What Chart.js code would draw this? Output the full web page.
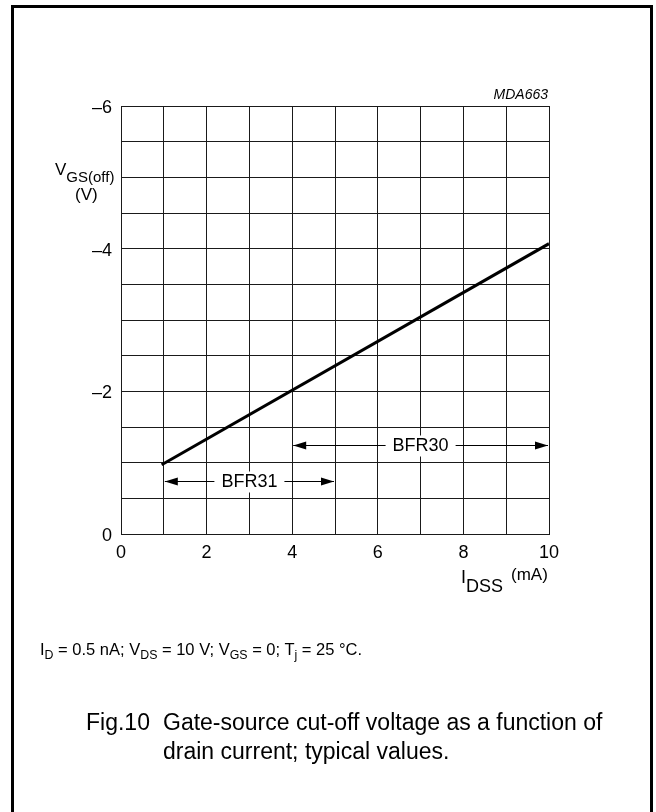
<!DOCTYPE html>
<html>
<head>
<meta charset="utf-8">
<title>Fig.10 Gate-source cut-off voltage</title>
<script src="https://cdn.jsdelivr.net/npm/chart.js@4.4.1/dist/chart.umd.min.js"></script>
<style>
    html, body { margin: 0; padding: 0; background: #fff; }
    body {
        width: 656px; height: 812px; position: relative; overflow: hidden;
        font-family: "Liberation Sans", Arial, Helvetica, sans-serif; color: #000;
    }
    #chart { position: absolute; left: 0; top: 0; }
    .frame {
        position: absolute; left: 11px; top: 5px; width: 642px; height: 830px;
        border: 3px solid #000; box-sizing: border-box;
    }
    .txt { position: absolute; line-height: 1; white-space: nowrap; }
    .lo { position: relative; }
    .code { font-style: italic; font-size: 14px; right: 108px; top: 87px; }
    .ytitle { font-size: 17px; left: 55px; top: 161px; }
    .yunit { font-size: 17px; left: 75px; top: 186px; }
    .xtitle { font-size: 18px; left: 461px; top: 568px; }
    .note { font-size: 16.5px; left: 40px; top: 641px; }
    .note sub { font-size: 0.75em; vertical-align: baseline; position: relative; top: 4px; }
    .cap { font-size: 23px; top: 711px; }
</style>
</head>
<body>
<canvas id="chart" width="656" height="812"></canvas>
<div class="frame"></div>

<div class="txt code">MDA663</div>
<div class="txt ytitle">V<span class="lo" style="top:7px; font-size:15px">GS(off)</span></div>
<div class="txt yunit">(V)</div>
<div class="txt xtitle">I<span class="lo" style="top:9px">DSS</span> <span class="lo" style="font-size:17px; top:-3px; left:3px">(mA)</span></div>

<div class="txt note">I<sub>D</sub> = 0.5 nA; V<sub>DS</sub> = 10 V; V<sub>GS</sub> = 0; T<sub>j</sub> = 25 °C.</div>
<div class="txt cap" style="left:86px;">Fig.10</div>
<div class="txt cap" style="left:163px;">Gate-source cut-off voltage as a function of</div>
<div class="txt cap" style="left:163px; top:740px;">drain current; typical values.</div>

<script>
// ========================================
// DATA
// ========================================

// axis ticks (labelled ones only, grid runs at finer steps)
const xTicks = [0, 2, 4, 6, 8, 10];
const yTicks = [0, -2, -4, -6];
const yTickLabels = ['0', '–2', '–4', '–6'];

// typical V_GS(off) versus I_DSS
const curveX = [0.95, 10];
const curveY = [-0.97, -4.07];

// type ranges drawn as double arrows
const rangeNames = ['BFR31', 'BFR30'];
const rangeFrom = [1, 4];
const rangeTo = [5, 10];
const rangeLevel = [-0.75, -1.25];
const rangeLabelAt = [3, 7];

const FONT = '"Liberation Sans", Arial, Helvetica, sans-serif';

// ========================================
// RANGE ARROWS PLUGIN
// ========================================

const rangeArrows = {
    id: 'rangeArrows',
    afterDatasetsDraw(chart) {
        const { ctx, scales } = chart;
        const xs = scales.x;
        const ys = scales.y;

        ctx.save();
        ctx.font = '18px ' + FONT;
        ctx.textAlign = 'center';
        ctx.textBaseline = 'middle';
        ctx.strokeStyle = '#000';
        ctx.lineWidth = 1;

        rangeNames.forEach((name, i) => {
            const x1 = xs.getPixelForValue(rangeFrom[i]) + 1;
            const x2 = xs.getPixelForValue(rangeTo[i]) - 1;
            const yy = Math.round(ys.getPixelForValue(rangeLevel[i])) + 0.5;
            const xm = xs.getPixelForValue(rangeLabelAt[i]);
            const w = ctx.measureText(name).width + 14;

            ctx.beginPath();
            ctx.moveTo(x1, yy);
            ctx.lineTo(x2, yy);
            ctx.stroke();

            // label sits on a white patch that also hides the grid
            ctx.fillStyle = '#fff';
            ctx.fillRect(xm - w / 2, yy - 10, w, 21);
            ctx.fillStyle = '#000';
            ctx.fillText(name, xm, yy + 1);

            // arrow heads pointing outwards
            [[x1, 1], [x2, -1]].forEach(([tip, dir]) => {
                ctx.beginPath();
                ctx.moveTo(tip, yy);
                ctx.lineTo(tip + dir * 13, yy - 4);
                ctx.lineTo(tip + dir * 13, yy + 4);
                ctx.closePath();
                ctx.fill();
            });
        });
        ctx.restore();
    }
};

// ========================================
// CHART
// ========================================

const gridStyle = { color: '#1a1a1a', lineWidth: 1, drawTicks: false };
const borderStyle = { color: '#1a1a1a', width: 1 };

new Chart(document.getElementById('chart'), {
    type: 'scatter',
    data: {
        datasets: [{
            data: curveX.map((x, i) => ({ x: x, y: curveY[i] })),
            showLine: true,
            borderColor: '#000',
            borderWidth: 3,
            pointRadius: 0,
            borderCapStyle: 'butt'
        }]
    },
    options: {
        responsive: false,
        animation: false,
        devicePixelRatio: 1,
        layout: { padding: { left: 0, top: 106, right: 107, bottom: 238 } },
        plugins: {
            legend: { display: false },
            tooltip: { enabled: false }
        },
        scales: {
            x: {
                type: 'linear',
                min: 0,
                max: 10,
                grid: gridStyle,
                border: borderStyle,
                afterFit(scale) { scale.height = 40; },
                ticks: {
                    stepSize: 1,
                    padding: 8,
                    color: '#000',
                    font: { family: FONT, size: 18 },
                    maxRotation: 0,
                    autoSkip: false,
                    callback: v => xTicks.includes(v) ? String(v) : ''
                }
            },
            y: {
                type: 'linear',
                min: -6,
                max: 0,
                reverse: true,
                grid: gridStyle,
                border: borderStyle,
                afterFit(scale) { scale.width = 121; },
                ticks: {
                    stepSize: 0.5,
                    padding: 9,
                    labelOffset: 2,
                    color: '#000',
                    font: { family: FONT, size: 18 },
                    autoSkip: false,
                    callback: v => {
                        const k = yTicks.indexOf(v);
                        return k >= 0 ? yTickLabels[k] : '';
                    }
                }
            }
        }
    },
    plugins: [rangeArrows]
});
</script>
</body>
</html>
